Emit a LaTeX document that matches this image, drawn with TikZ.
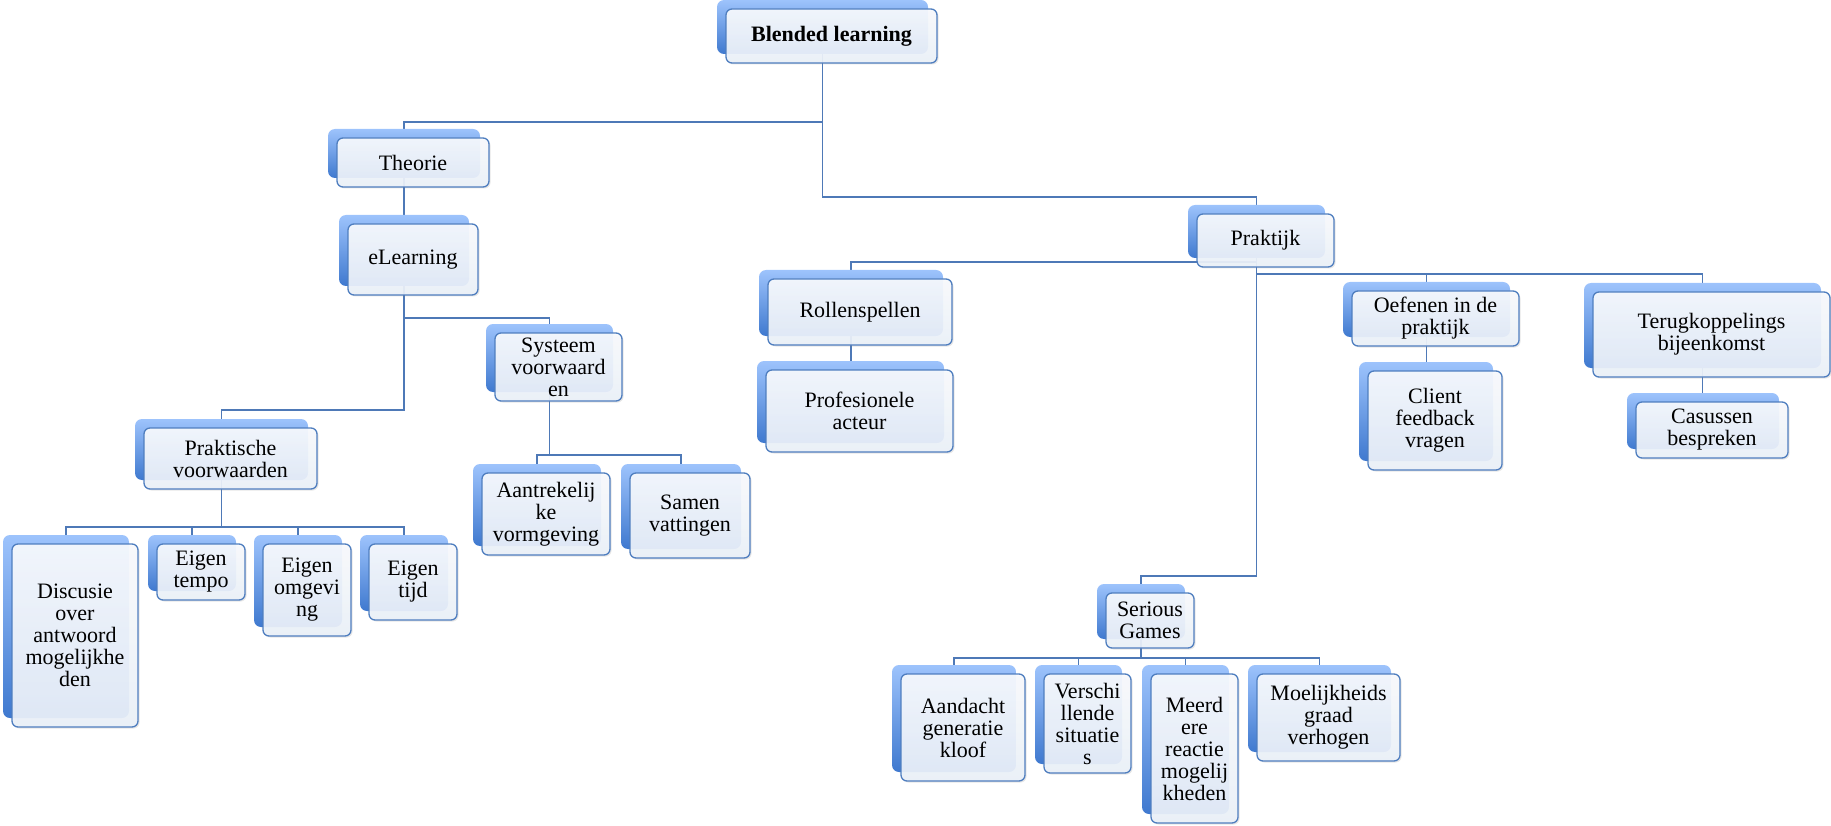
\documentclass[tikz,border=0pt]{standalone}
\usepackage{fontspec}
\setmainfont{Liberation Serif}
\usetikzlibrary{backgrounds,shadows}
\definecolor{backtop}{HTML}{9DC3FC}
\definecolor{backbot}{HTML}{3F79CF}
\definecolor{rim}{HTML}{4F7EBF}
\definecolor{facetop}{HTML}{F9FBFE}
\definecolor{facebot}{HTML}{EBF1FA}
\definecolor{wire}{HTML}{4E79B7}

\begin{document}
\begin{tikzpicture}[x=1pt,y=-1pt,
	backbox/.style={rounded corners=7pt,top color=backtop,bottom color=backbot,inner sep=0pt},
	frontbox/.style={rounded corners=6pt,draw=rim,line width=1.3pt,top color=facetop,bottom color=facebot,
		fill opacity=.92,text opacity=1,align=center,inner sep=0pt,font=\fontsize{22}{22}\selectfont,
		drop shadow={shadow xshift=1.5pt,shadow yshift=-1.5pt,opacity=.2}},
	conn/.style={draw=wire,line width=1.6pt}]
	\useasboundingbox (0,0) rectangle (1831,826);
	% boxes: name / left / top / width / height / text
	\foreach \nm/\x/\y/\w/\h/\txt in {
		blended/726/9/211/54/{\textbf{Blended learning}},
		theorie/337/138/152/49/{Theorie},
		elearning/348/224/130/71/{eLearning},
		systeem/495/333/127/68/{Systeem\\voorwaard\\en},
		praktische/144/428/173/61/{Praktische\\voorwaarden},
		aantrek/482/473/128/82/{Aantrekelij\\ke\\vormgeving},
		samen/630/473/120/85/{Samen\\vattingen},
		discusie/12/544/126/183/{Discusie\\over\\antwoord\\mogelijkhe\\den},
		tempo/157/544/88/56/{Eigen\\tempo},
		omgeving/263/544/88/92/{Eigen\\omgevi\\ng},
		tijd/369/544/88/76/{Eigen\\tijd},
		praktijk/1197/214/137/53/{Praktijk},
		rollen/768/279/184/66/{Rollenspellen},
		profes/766/370/187/82/{Profesionele\\acteur},
		oefenen/1352/291/167/55/{Oefenen in de\\praktijk},
		client/1368/371/134/99/{Client\\feedback\\vragen},
		terug/1593/292/237/85/{Terugkoppelings\\bijeenkomst},
		casussen/1636/402/152/56/{Casussen\\bespreken},
		serious/1106/593/88/55/{Serious\\Games},
		aandacht/901/674/124/107/{Aandacht\\generatie\\kloof},
		verschil/1044/674/87/99/{Verschi\\llende\\situatie\\s},
		meerdere/1151/674/87/149/{Meerd\\ere\\reactie\\mogelij\\kheden},
		moeilijk/1257/674/143/87/{Moelijkheids\\graad\\verhogen}}
	{
		\node[backbox,minimum width=\w*1pt,minimum height=\h*1pt] (b-\nm) at (\x-9+\w/2,\y-9+\h/2) {};
		\node[frontbox,minimum width=\w*1pt,minimum height=\h*1pt] (\nm) at (\x+\w/2,\y+\h/2) {\txt};
	}
	% connectors behind the boxes
	\begin{scope}[on background layer]
		\draw[conn] (b-blended.south) -- ++(0,68) -| (b-theorie.north);
		\draw[conn] (b-blended.south) -- ++(0,143) -| (b-praktijk.north);
		\draw[conn] (b-theorie.south) -- (b-theorie.south |- b-elearning.north);
		\draw[conn] (b-elearning.south) -- ++(0,32) -| (b-systeem.north);
		\draw[conn] (b-elearning.south) -- ++(0,124) -| (b-praktische.north);
		\foreach \ch in {discusie,tempo,omgeving,tijd}
			\draw[conn] (b-praktische.south) -- ++(0,47) -| (b-\ch.north);
		\foreach \ch in {aantrek,samen}
			\draw[conn] (b-systeem.south) -- ++(0,63) -| (b-\ch.north);
		\draw[conn] (b-praktijk.south) -- ++(0,4) -| (b-rollen.north);
		\draw[conn] (b-rollen.south) -- (b-rollen.south |- b-profes.north);
		\foreach \ch in {oefenen,terug}
			\draw[conn] (b-praktijk.south) -- ++(0,16) -| (b-\ch.north);
		\draw[conn] (b-oefenen.south) -- (b-oefenen.south |- b-client.north);
		\draw[conn] (b-terug.south) -- (b-terug.south |- b-casussen.north);
		\draw[conn] (b-praktijk.south) -- ++(0,318) -| (b-serious.north);
		\foreach \ch in {aandacht,verschil,meerdere,moeilijk}
			\draw[conn] (b-serious.south) -- ++(0,19) -| (b-\ch.north);
	\end{scope}
\end{tikzpicture}
\end{document}
